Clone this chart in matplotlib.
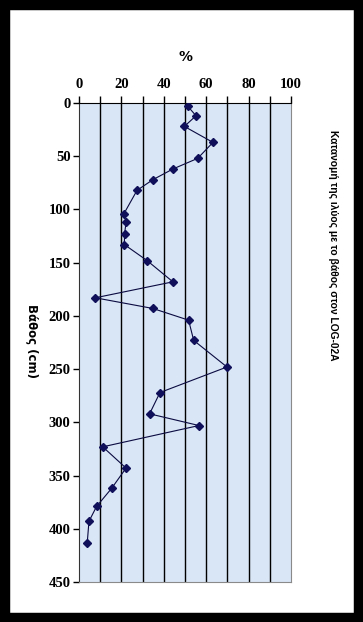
import matplotlib
matplotlib.use('Agg')
import matplotlib.pyplot as plt
from matplotlib.ticker import MultipleLocator

# depth (cm) and percentage of silt
depth = [3, 12, 22, 37, 52, 62, 72, 82, 104, 112, 123, 133, 148, 168, 183, 193,
         204, 223, 248, 272, 292, 303, 323, 343, 362, 379, 393, 413]
silt = [51.3, 55.2, 49.7, 63.2, 56.0, 44.3, 34.9, 27.4, 21.2, 22.2, 21.5, 21.4,
        32.1, 44.3, 7.7, 34.8, 51.7, 54.1, 69.8, 38.2, 33.3, 56.6, 11.2, 22.2,
        15.4, 8.3, 4.7, 3.9]

x_ticks = [0, 20, 40, 60, 80, 100]
y_ticks = [0, 50, 100, 150, 200, 250, 300, 350, 400, 450]

fig = plt.figure(figsize=(3.63, 6.22), dpi=100)
fig.patch.set_facecolor('white')

# black frame round the picture
fig.patches.append(plt.Rectangle((0, 0), 1, 1, transform=fig.transFigure,
                                 fill=False, edgecolor='black', linewidth=14,
                                 zorder=10))

ax = fig.add_axes([0.2176, 0.0643, 0.584, 0.7701])
ax.set_facecolor('#d9e6f6')

for g in range(10, 100, 10):
    ax.axvline(g, color='black', linewidth=1.0, zorder=1)

ax.plot(silt, depth, color='#0a0a40', linewidth=0.8, marker='D',
        markersize=4.2, markerfacecolor='#10105a', markeredgecolor='#10105a',
        zorder=3)

ax.set_xlim(0, 100)
ax.set_ylim(450, 0)
ax.xaxis.tick_top()
ax.set_xticks(x_ticks)
ax.xaxis.set_minor_locator(MultipleLocator(10))
ax.set_yticks(y_ticks)
ax.tick_params(axis='x', which='both', direction='out', length=5, width=1,
               pad=4, labelsize=10.5)
ax.tick_params(axis='y', direction='out', length=4, width=1, pad=2,
               labelsize=10.5)
for lab in ax.get_xticklabels() + ax.get_yticklabels():
    lab.set_fontfamily('Liberation Serif')
    lab.set_fontweight('bold')

ax.spines['top'].set_color('black')
ax.spines['left'].set_color('#333333')
ax.spines['right'].set_color('#8a8a8a')
ax.spines['bottom'].set_color('#8a8a8a')

fig.text(0.51, 0.908, '%', ha='center', va='center', fontsize=10,
         fontweight='bold', family='DejaVu Sans')
fig.text(0.088, 0.452, 'Βάθος (cm)', ha='center', va='center', rotation=-90,
         fontsize=8.5, fontweight='bold', family='DejaVu Sans')
fig.text(0.918, 0.606, 'Κατανομή της ιλύος με το βάθος στον LOG-02A',
         ha='center', va='center', rotation=-90, fontsize=7.4,
         fontweight='bold', family=['Liberation Sans', 'DejaVu Sans'])

fig.savefig('out.png', dpi=100)
